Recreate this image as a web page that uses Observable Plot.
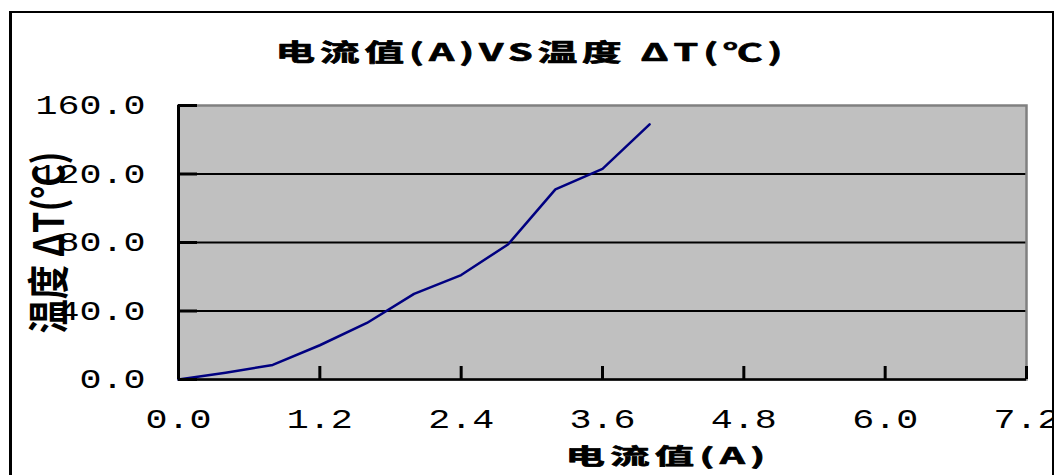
<!DOCTYPE html>
<html>
<head>
<meta charset="utf-8">
<script src="https://cdn.jsdelivr.net/npm/d3@7"></script>
<script src="https://cdn.jsdelivr.net/npm/@observablehq/plot@0.6"></script>
<style>
html, body { margin: 0; padding: 0; background: #fff; overflow: hidden; width: 1054px; height: 475px; }
#wrap { position: relative; width: 1054px; height: 475px; overflow: hidden; }
#wrap svg { position: absolute; left: 0; top: 0; }
#border { position: absolute; left: 9px; top: 11px; width: 1040px; height: 480px;
  border-left: 3px solid #000; border-top: 2.5px solid #000; border-right: 2px solid #000;
  pointer-events: none; }
</style>
</head>
<body>
<div id="wrap"><div id="border"></div></div>
<script>
// Data
const currentA = [0, 0.4, 0.8, 1.2, 1.6, 2.0, 2.4, 2.8, 3.2, 3.6, 4.0];
const deltaT   = [0, 4, 8.5, 20, 33, 50, 61, 79, 111, 123, 149];
const xTicks = [0, 1.2, 2.4, 3.6, 4.8, 6.0, 7.2];
const yTicks = [0, 40, 80, 120, 160];
const gridValues = [40, 80, 120];
const titleText = "电流值(A)VS温度 ΔT(℃)";
const xLabel = "电流值(A)";
const yLabel = "温度 ΔT(℃)";

const data = currentA.map((x, i) => ({x, y: deltaT[i]}));
const fmt = d => d.toFixed(1);

const W = 1054, H = 475, mL = 178, mR = 28, mT = 105, mB = 96;
const plotW = W - mL - mR, plotH = H - mT - mB;
const cjk = "'Noto Sans CJK SC', 'Noto Sans', sans-serif";
const mono = "'Liberation Mono', 'DejaVu Sans Mono', monospace";

const chart = Plot.plot({
  width: W, height: H,
  marginLeft: mL, marginRight: mR, marginTop: mT, marginBottom: mB,
  x: {domain: [0, 7.2], axis: null},
  y: {domain: [0, 160], axis: null},
  style: {background: "transparent", overflow: "visible"},
  marks: [
    Plot.frame({fill: "#c0c0c0"}),
    Plot.ruleY(gridValues, {stroke: "#000", strokeWidth: 2}),
    Plot.frame({stroke: "#808080", strokeWidth: 2.5}),
    Plot.line(data, {x: "x", y: "y", stroke: "#000080", strokeWidth: 2.5}),
    Plot.ruleX([0], {stroke: "#000", strokeWidth: 3}),
    Plot.ruleY([0], {stroke: "#000", strokeWidth: 2.5}),
    Plot.tickX(xTicks, {x: d => d, stroke: "#000", strokeWidth: 3, insetTop: plotH - 13}),
    Plot.tickY(yTicks, {y: d => d, stroke: "#000", strokeWidth: 3, insetRight: plotW - 19}),
    Plot.text(xTicks, {x: d => d, text: fmt, frameAnchor: "bottom", dy: 40, lineAnchor: "middle",
      textAnchor: "middle", fontFamily: mono, fontSize: 27, fill: "#000"}),
    Plot.text(yTicks, {y: d => d, text: fmt, frameAnchor: "left", dx: -33, lineAnchor: "middle",
      textAnchor: "end", fontFamily: mono, fontSize: 27, fill: "#000"}),
    Plot.text([titleText], {text: d => d, frameAnchor: "top", dx: -71, dy: -52, lineAnchor: "middle",
      textAnchor: "middle", fontFamily: cjk, fontWeight: "bold", fontSize: 24, fill: "#000",
      stroke: "#000", strokeWidth: 0.7}),
    Plot.text([xLabel], {text: d => d, frameAnchor: "bottom", dx: 65.5, dy: 77, lineAnchor: "middle",
      textAnchor: "middle", fontFamily: cjk, fontWeight: "bold", fontSize: 22, fill: "#000",
      stroke: "#000", strokeWidth: 0.7}),
    Plot.text([yLabel], {text: d => d, frameAnchor: "left", dx: -128, dy: 91, rotate: -90, lineAnchor: "middle",
      textAnchor: "start", fontFamily: cjk, fontWeight: "bold", fontSize: 42, fill: "#000"})
  ]
});

document.getElementById("wrap").appendChild(chart);

// Horizontally stretch a text to a target width, keeping its centre (local coordinates)
function stretchTo(t, target, spacing) {
  if (spacing) t.style.letterSpacing = spacing + "px";
  const b = t.getBBox();
  if (b.width > 0) {
    const k = target / b.width;
    const cx = b.x + b.width / 2;
    const prev = t.getAttribute("transform") || "";
    t.setAttribute("transform", `${prev} translate(${cx},0) scale(${k},1) translate(${-cx},0)`.trim());
  }
}

chart.querySelectorAll("text").forEach(t => {
  const s = t.textContent;
  if (/^\d+\.\d$/.test(s)) {
    t.setAttribute("textLength", s.length * 22);
    t.setAttribute("lengthAdjust", "spacingAndGlyphs");
  } else if (s === titleText) {
    stretchTo(t, 512, 3);
  } else if (s === xLabel) {
    stretchTo(t, 205, 3);
  } else if (s === yLabel) {
    t.setAttribute("textLength", 182);
    t.setAttribute("lengthAdjust", "spacingAndGlyphs");
  }
});
</script>
</body>
</html>
